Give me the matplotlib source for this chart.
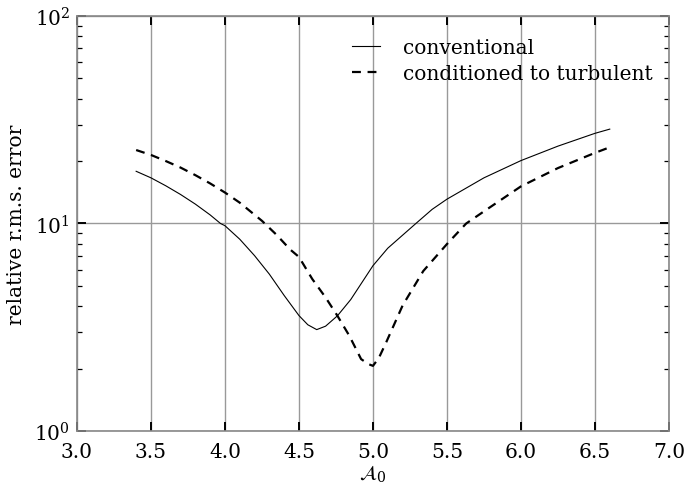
import numpy as np
import matplotlib
matplotlib.use("Agg")
import matplotlib.pyplot as plt

# values (A_0 vs relative r.m.s. error)
a0_conv = [3.4, 3.5, 3.6, 3.7, 3.8, 3.9, 3.97, 4.0, 4.1, 4.2, 4.3, 4.4, 4.5,
           4.56, 4.62, 4.68, 4.76, 4.85, 5.0, 5.1, 5.29, 5.4, 5.5, 5.75,
           6.0, 6.25, 6.5, 6.6]
err_conv = [17.85, 16.6, 15.2, 13.8, 12.4, 11.0, 10.0, 9.76, 8.4, 7.0, 5.7,
            4.5, 3.6, 3.25, 3.08, 3.2, 3.59, 4.3, 6.26, 7.6, 10.0, 11.7,
            13.1, 16.6, 20.1, 23.6, 27.2, 28.5]

a0_cond = [3.4, 3.5, 3.6, 3.7, 3.8, 3.9, 4.0, 4.1, 4.25, 4.35, 4.44, 4.5,
           4.59, 4.68, 4.76, 4.84, 4.92, 4.97, 5.0, 5.04, 5.09, 5.2, 5.34,
           5.5, 5.63, 5.77, 6.0, 6.25, 6.5, 6.6]
err_cond = [22.6, 21.4, 20.0, 18.6, 17.1, 15.6, 14.1, 12.6, 10.3, 8.8, 7.5,
            6.9, 5.4, 4.4, 3.59, 2.88, 2.22, 2.1, 2.06, 2.25, 2.68, 4.02,
            5.9, 7.96, 10.0, 11.7, 15.1, 18.5, 21.9, 23.3]

xticks = [3.0, 3.5, 4.0, 4.5, 5.0, 5.5, 6.0, 6.5, 7.0]

plt.rcParams['font.family'] = ['DejaVu Serif']
plt.rcParams['mathtext.fontset'] = 'dejavuserif'
plt.rcParams['font.size'] = 14.5

fig = plt.figure(figsize=(6.84, 4.89), dpi=100)
ax = fig.add_axes([0.1125, 0.1166, 0.8655, 0.8486])

ax.plot(a0_conv, err_conv, color='black', lw=0.8, label='conventional')
ax.plot(a0_cond, err_cond, color='black', lw=1.6, ls=(0, (4, 3)),
        label='conditioned to turbulent')

ax.set_yscale('log')
ax.set_xlim(3.0, 7.0)
ax.set_ylim(1, 100)
ax.set_xticks(xticks)
ax.set_xticklabels([f"{t:.1f}" for t in xticks])
ax.minorticks_on()
ax.xaxis.set_minor_locator(matplotlib.ticker.NullLocator())

ax.grid(True, which='major', color='#999999', lw=1.0)
ax.tick_params(which='both', direction='in', top=True, right=True, color='black')
ax.tick_params(which='major', length=6.5, width=1.4, pad=5)
ax.tick_params(axis='x', which='major', pad=8)
ax.tick_params(which='minor', length=3.6, width=0.9)
for sp in ax.spines.values():
    sp.set_color('#888888')
    sp.set_linewidth(1.2)

ax.set_xlabel(r'$\mathcal{A}_0$', labelpad=1)
ax.set_ylabel('relative r.m.s. error', labelpad=6)

ax.legend(loc='upper right', frameon=False, handlelength=1.4, handletextpad=1.15,
          borderaxespad=0.7, labelspacing=0.35, bbox_to_anchor=(1.01, 1.0))

fig.savefig('out.png', dpi=100)
